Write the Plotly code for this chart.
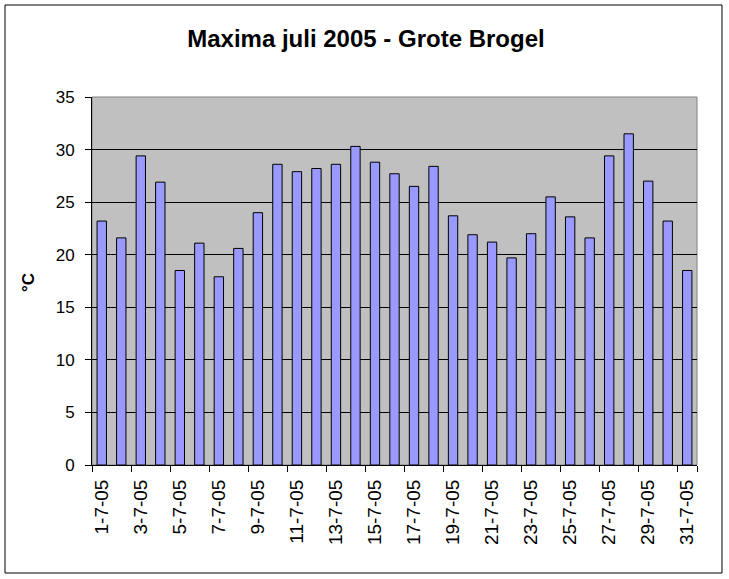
import plotly.graph_objects as go

# Data: maximum temperatures July 2005, Grote Brogel
dagen = ["1-7-05", "2-7-05", "3-7-05", "4-7-05", "5-7-05", "6-7-05", "7-7-05", "8-7-05",
         "9-7-05", "10-7-05", "11-7-05", "12-7-05", "13-7-05", "14-7-05", "15-7-05", "16-7-05",
         "17-7-05", "18-7-05", "19-7-05", "20-7-05", "21-7-05", "22-7-05", "23-7-05", "24-7-05",
         "25-7-05", "26-7-05", "27-7-05", "28-7-05", "29-7-05", "30-7-05", "31-7-05"]
maxima = [23.2, 21.6, 29.4, 26.9, 18.5, 21.1, 17.9, 20.6,
          24.0, 28.6, 27.9, 28.2, 28.6, 30.3, 28.8, 27.7,
          26.5, 28.4, 23.7, 21.9, 21.2, 19.7, 22.0, 25.5,
          23.6, 21.6, 29.4, 31.5, 27.0, 23.2, 18.5]
y_ticks = [0, 5, 10, 15, 20, 25, 30, 35]

FONT = "Arial, Liberation Sans, sans-serif"

fig = go.Figure()
fig.add_trace(go.Bar(
    x=dagen,
    y=maxima,
    marker=dict(color="#9999FF", line=dict(color="#000000", width=1)),
    hoverinfo="x+y",
))

# tick labels on every second day
fig.update_xaxes(
    type="category",
    tickmode="array",
    tickvals=dagen[::2],
    ticktext=dagen[::2],
    tickangle=-90,
    tickson="boundaries",
    ticks="outside",
    ticklen=6,
    tickcolor="#000000",
    ticklabelstandoff=6,
    showline=True,
    linecolor="#000000",
    linewidth=1,
    showgrid=False,
    tickfont=dict(family=FONT, size=19, color="#000000"),
)
fig.update_yaxes(
    range=[0, 35],
    tickvals=y_ticks,
    ticks="outside",
    ticklen=6,
    tickcolor="#000000",
    ticklabelstandoff=7,
    showline=True,
    linecolor="#000000",
    linewidth=1,
    showgrid=True,
    gridcolor="#000000",
    gridwidth=1,
    zeroline=False,
    tickfont=dict(family=FONT, size=17, color="#000000"),
)

fig.update_layout(
    width=729,
    height=579,
    autosize=False,
    margin=dict(l=92, r=32, t=97, b=114),
    paper_bgcolor="#FFFFFF",
    plot_bgcolor="#C0C0C0",
    bargap=0.52,
    showlegend=False,
    title=dict(
        text="<b>Maxima juli 2005 - Grote Brogel</b>",
        x=0.502, xanchor="center",
        y=0.933, yanchor="middle",
        font=dict(family=FONT, size=24, color="#000000"),
    ),
    annotations=[dict(
        text="<b>°C</b>", x=-0.106, y=0.497, xref="paper", yref="paper",
        xanchor="center", yanchor="middle",
        textangle=-90, showarrow=False,
        font=dict(family=FONT, size=17, color="#000000"),
    )],
    shapes=[
        # grey border of plot area (top/right)
        dict(type="rect", xref="paper", yref="paper", x0=0, x1=1, y0=0, y1=1,
             line=dict(color="#808080", width=1), layer="below"),
        # outer frame
        dict(type="rect", xref="paper", yref="paper", x0=-0.1438, x1=1.0413,
             y0=-0.2935, y1=1.25, line=dict(color="#000000", width=1)),
    ],
)

# remove default page margin so the figure fills the window
fig.write_html(
    "out.html",
    config={"displayModeBar": False},
    post_script="document.body.style.margin='0';document.body.style.overflow='hidden';",
)
